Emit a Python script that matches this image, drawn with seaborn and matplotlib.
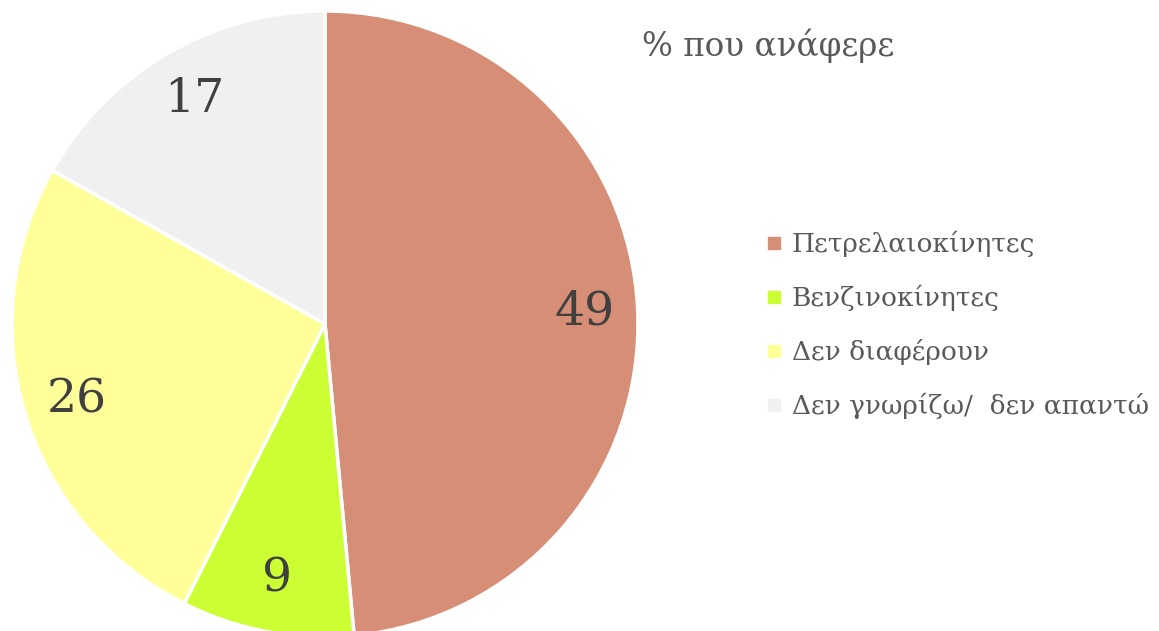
import matplotlib
matplotlib.use("Agg")
import matplotlib.pyplot as plt
from matplotlib.lines import Line2D
import seaborn as sns

# data
categories = ["Πετρελαιοκίνητες", "Βενζινοκίνητες", "Δεν διαφέρουν", "Δεν γνωρίζω/  δεν απαντώ"]
values = [49, 9, 26, 17]
colors = ["#D68E76", "#CCFF33", "#FFFF99", "#F0F0F0"]
title = "% που ανάφερε"

sns.set_theme(style="white")
plt.rcParams["font.family"] = ["DejaVu Serif", "DejaVu Sans"]

fig = plt.figure(figsize=(11.59, 6.31), dpi=100)
ax = fig.add_axes([12 / 1159, (631 - 637) / 631, 626 / 1159, 626 / 631])

total = sum(values)
wedges, texts, autotexts = ax.pie(
    values,
    colors=colors,
    startangle=90,
    counterclock=False,
    autopct=lambda p: f"{round(p * total / 100)}",
    pctdistance=0.83,
    wedgeprops=dict(edgecolor="white", linewidth=2.5),
    textprops=dict(fontsize=34, color="#404040"),
)
ax.set_xlim(-1, 1)
ax.set_ylim(-1, 1)
ax.set_aspect("equal")

fig.text(642 / 1159, 1 - 46 / 631, title, fontsize=23.5, color="#595959", va="center", ha="left")

handles = [Line2D([0], [0], marker="s", linestyle="", markersize=9,
                  markerfacecolor=c, markeredgecolor=c) for c in colors]
leg = fig.legend(handles, categories, loc="center left",
                 bbox_to_anchor=(744 / 1159, 1 - 325 / 631),
                 frameon=False, fontsize=19, labelspacing=1.05,
                 handlelength=0.5, handletextpad=0.4)
for t in leg.get_texts():
    t.set_color("#595959")

fig.savefig("out.png", dpi=100)
